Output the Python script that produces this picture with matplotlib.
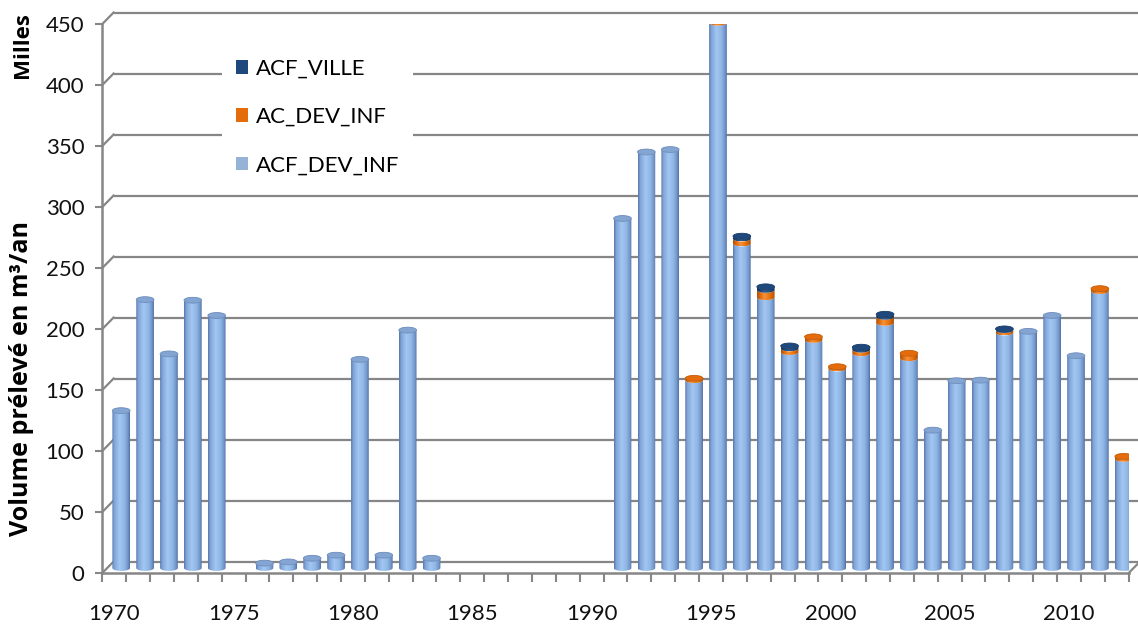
import numpy as np
import matplotlib
matplotlib.use("Agg")
import matplotlib.pyplot as plt
from matplotlib.patches import Ellipse, PathPatch, Patch
from matplotlib.path import Path
from matplotlib.colors import LinearSegmentedColormap

# ---------------- data (thousands of m3/year) ----------------
years = list(range(1970, 2013))
acf_dev_inf = [129, 220, 175.5, 219.5, 207, 0, 4, 5, 8, 10.5,
               171, 10.5, 195, 8, 0, 0, 0, 0, 0, 0,
               0, 286.5, 341, 343, 154, 447, 266, 222, 177, 187,
               163.5, 176, 201, 172, 113, 153.5, 154, 193, 194, 207,
               174, 227, 89.5]
ac_dev_inf = [0, 0, 0, 0, 0, 0, 0, 0, 0, 0,
              0, 0, 0, 0, 0, 0, 0, 0, 0, 0,
              0, 0, 0, 0, 1.5, 2, 4, 6, 3, 2.5,
              1.5, 3, 5, 4, 0, 0, 0, 2, 0, 0,
              0, 2, 2]
acf_ville = [0, 0, 0, 0, 0, 0, 0, 0, 0, 0,
             0, 0, 0, 0, 0, 0, 0, 0, 0, 0,
             0, 0, 0, 0, 0, 0, 2, 2.5, 2, 0,
             0, 2, 2, 0, 0, 0, 0, 1, 0, 0,
             0, 0, 0]
series_names = ["ACF_DEV_INF", "AC_DEV_INF", "ACF_VILLE"]
yticks = list(range(0, 451, 50))
xlabels_years = list(range(1970, 2011, 5))

# ---------------- style ----------------
W, H = 1138, 624
FONT = "Lato"
TITLE_FONT = "Open Sans"
GRID = "#868686"
side_cmaps = [
    LinearSegmentedColormap.from_list("blue", [(0, "#5876AB"), (0.12, "#80A4D8"), (0.42, "#A2C7F2"),
                                              (0.7, "#90B6E5"), (0.9, "#7094C8"), (1, "#5270A3")]),
    LinearSegmentedColormap.from_list("orange", [(0, "#A94D06"), (0.15, "#DA6508"), (0.42, "#F5913A"),
                                                (0.7, "#E8740F"), (0.9, "#C85D08"), (1, "#A34A05")]),
    LinearSegmentedColormap.from_list("navy", [(0, "#122E52"), (0.15, "#1B4270"), (0.42, "#2D5A92"),
                                              (0.7, "#22507F"), (0.9, "#193C68"), (1, "#112B4D")]),
]
top_colors = ["#84A5D2", "#E46C0A", "#1F497D"]
top_edges = ["#6A8BBC", "#C45A06", "#173A66"]
legend_colors = ["#95B3D7", "#E46C0A", "#1F497D"]

fig = plt.figure(figsize=(W / 100, H / 100), dpi=100)
x_left, x_right = 102.3, 1128.7
y_zero, y_top = 573, 24
ax = fig.add_axes([x_left / W, (H - y_zero) / H, (x_right - x_left) / W, (y_zero - y_top) / H])
ax.set_xlim(1969.5, 2012.5)
ax.set_ylim(0, 450)
ax.patch.set_alpha(0)

px_x = (x_right - x_left) / 43.0        # pixels per year
px_y = (y_zero - y_top) / 450.0         # pixels per unit
BX = 11.3 / px_x                        # back wall offset
BY = 11.5 / px_y
MX = 7.0 / px_x                         # bar (mid depth) offset
MY = 5.0 / px_y
BAR_W = 17.7 / px_x
EH = 2.9 / px_y                         # ellipse semi height

x0 = 1969.5
x_end = x0 + (W - x_left) / px_x
# back wall gridlines + left wall diagonals
for v in yticks:
    ax.plot([x0 + BX, x_end], [v + BY, v + BY], color=GRID, lw=1.6, clip_on=False, zorder=1,
            solid_capstyle="butt")
    ax.plot([x0, x0 + BX], [v, v + BY], color=GRID, lw=1.6, clip_on=False, zorder=1)
# floor right edge
ax.plot([2012.5, 2012.5 + BX * 0.85], [0, BY * 0.85], color=GRID, lw=1.6, clip_on=False, zorder=1)

grad = np.linspace(0, 1, 64).reshape(1, -1)


def draw_segment(xc, y0, y1, k):
    hw = BAR_W / 2
    t = np.linspace(np.pi, 2 * np.pi, 40)
    bx = xc + hw * np.cos(t)
    by = y0 + EH * np.sin(t)
    t2 = t[::-1]
    tx = xc + hw * np.cos(t2)
    ty = y1 + EH * np.sin(t2)
    verts = np.concatenate([np.column_stack([bx, by]), np.column_stack([tx, ty]), [[bx[0], by[0]]]])
    codes = [Path.MOVETO] + [Path.LINETO] * (len(verts) - 2) + [Path.CLOSEPOLY]
    patch = PathPatch(Path(verts, codes), facecolor="none", edgecolor="none", zorder=3)
    ax.add_patch(patch)
    im = ax.imshow(grad, extent=[xc - hw, xc + hw, y0 - EH, y1 + EH], cmap=side_cmaps[k],
                   aspect="auto", origin="lower", zorder=3, interpolation="bilinear")
    im.set_clip_path(patch)


stacks = [acf_dev_inf, ac_dev_inf, acf_ville]
for i, yr in enumerate(years):
    base = MY
    last = None
    for k, s in enumerate(stacks):
        v = s[i]
        if v <= 0:
            continue
        draw_segment(yr + MX, base, base + v, k)
        base += v
        last = k
    if last is not None:
        ax.add_patch(Ellipse((yr + MX, base), BAR_W, 2 * EH, facecolor=top_colors[last],
                             edgecolor=top_edges[last], lw=0.6, zorder=4))

ax.set_xlim(1969.5, 2012.5)
ax.set_ylim(0, 450)

# axes / ticks
for sp in ["top", "right"]:
    ax.spines[sp].set_visible(False)
for sp in ["left", "bottom"]:
    ax.spines[sp].set_color(GRID)
    ax.spines[sp].set_linewidth(1.8)
ax.set_yticks(yticks)
ax.set_yticklabels([str(v) for v in yticks])
ax.set_xticks(xlabels_years)
ax.set_xticklabels([str(v) for v in xlabels_years])
ax.set_xticks(np.arange(1969.5, 2013, 1.0), minor=True)
ax.tick_params(axis="y", direction="out", length=5, width=1.5, color=GRID, pad=8,
               labelsize=16, labelcolor="#111111")
ax.tick_params(axis="x", which="major", length=0, pad=22, labelsize=16, labelcolor="#111111")
ax.tick_params(axis="x", which="minor", direction="out", length=6.5, width=1.5, color=GRID)
for lab in ax.get_xticklabels() + ax.get_yticklabels():
    lab.set_fontfamily(FONT)

# titles
fig.text(22 / W, 1 - 378 / H, "Volume prélevé en m³/an", rotation=90, ha="center", va="center",
         fontsize=18, fontweight="bold", family=TITLE_FONT)
fig.text(22 / W, 1 - 45 / H, "Milles", rotation=90, ha="center", va="center",
         fontsize=16, fontweight="bold", family=TITLE_FONT)

# legend
handles = [Patch(facecolor=legend_colors[k], edgecolor="none") for k in (2, 1, 0)]
labels = [series_names[k] for k in (2, 1, 0)]
leg = ax.legend(handles, labels, loc="upper left", bbox_to_anchor=(222 / W, 1 - 45 / H),
                bbox_transform=fig.transFigure, frameon=True, fancybox=False, framealpha=1,
                facecolor="white", edgecolor="none", handlelength=0.55, handleheight=0.55,
                handletextpad=0.35, labelspacing=1.27, borderpad=0.62, borderaxespad=0,
                prop={"family": FONT, "size": 16})
leg.set_zorder(10)

fig.savefig("out.png", dpi=100)
